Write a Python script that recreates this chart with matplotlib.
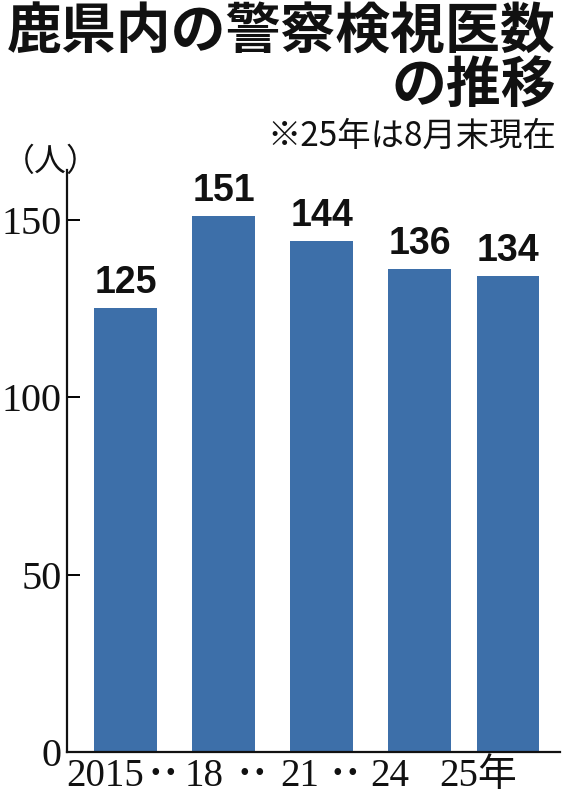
"""鹿児島県内の警察検視医数の推移 — bar chart"""

import matplotlib
matplotlib.use("Agg")
import matplotlib.pyplot as plt
from matplotlib.transforms import blended_transform_factory

plt.rcParams["font.family"] = ["Noto Sans CJK JP", "DejaVu Sans"]

# ── Data ────────────────────────────────────────────────────────────────────
years = ["2015", "18", "21", "24", "25年"]
counts = [125, 151, 144, 136, 134]
x_pos = [0, 1, 2, 3, 3.9]
y_ticks = [0, 50, 100, 150]

BAR_COLOR = "#3d6fa9"
SERIF = ["Liberation Serif", "DejaVu Serif"]

fig = plt.figure(figsize=(5.65, 7.97), dpi=100)
ax = fig.add_axes([67 / 565, 45 / 797, (560 - 67) / 565, (752 - 170) / 797])

ax.bar(x_pos, counts, width=0.64, color=BAR_COLOR, zorder=2)

for x, v in zip(x_pos, counts):
    ax.text(x, v + 2, str(v), ha="center", va="bottom", fontsize=27,
            fontweight="bold", family=["Liberation Sans Narrow", "Liberation Sans"],
            color="#111")

ax.set_xlim(-0.6, 4.43)
ax.set_ylim(0, 164)

ax.spines[["top", "right"]].set_visible(False)
for s in ("left", "bottom"):
    ax.spines[s].set_linewidth(1.6)
    ax.spines[s].set_color("#111")

ax.set_yticks(y_ticks)
ax.set_yticklabels([str(t) for t in y_ticks], family=SERIF, fontsize=29,
                   color="#111")
ax.tick_params(axis="y", direction="in", length=9, width=1.4, pad=4)
ax.set_xticks([])

# x labels (placed slightly left of bars, with "• •" between)
tr = blended_transform_factory(ax.transData, ax.transAxes)
label_x = [-0.21, 0.8, 1.77, 2.69, 3.59]
for lx, lab in zip(label_x, years):
    ax.text(lx, -0.01, lab, transform=tr, ha="center", va="top",
            fontsize=28, family=SERIF + ["Noto Sans CJK JP"], color="#111")
dot_x = [0.30, 0.45, 1.21, 1.36, 2.16, 2.31]
for dx in dot_x:
    ax.text(dx, -0.039, "•", transform=tr, ha="center", va="center",
            fontsize=20, family=SERIF, color="#111")

# unit label
fig.text(3 / 565, 1 - 146 / 797, "（人）", ha="left", va="top", fontsize=23,
         color="#111")

# titles
fig.text(556 / 565, 1 - 4 / 797, "鹿県内の警察検視医数", ha="right", va="top",
         fontsize=39.5, fontweight="bold", color="#111")
fig.text(556 / 565, 1 - 58 / 797, "の推移", ha="right", va="top",
         fontsize=39.5, fontweight="bold", color="#111")
fig.text(556 / 565, 1 - 119 / 797, "※25年は8月末現在", ha="right", va="top",
         fontsize=24, color="#111")

fig.savefig("out.png", dpi=100)
